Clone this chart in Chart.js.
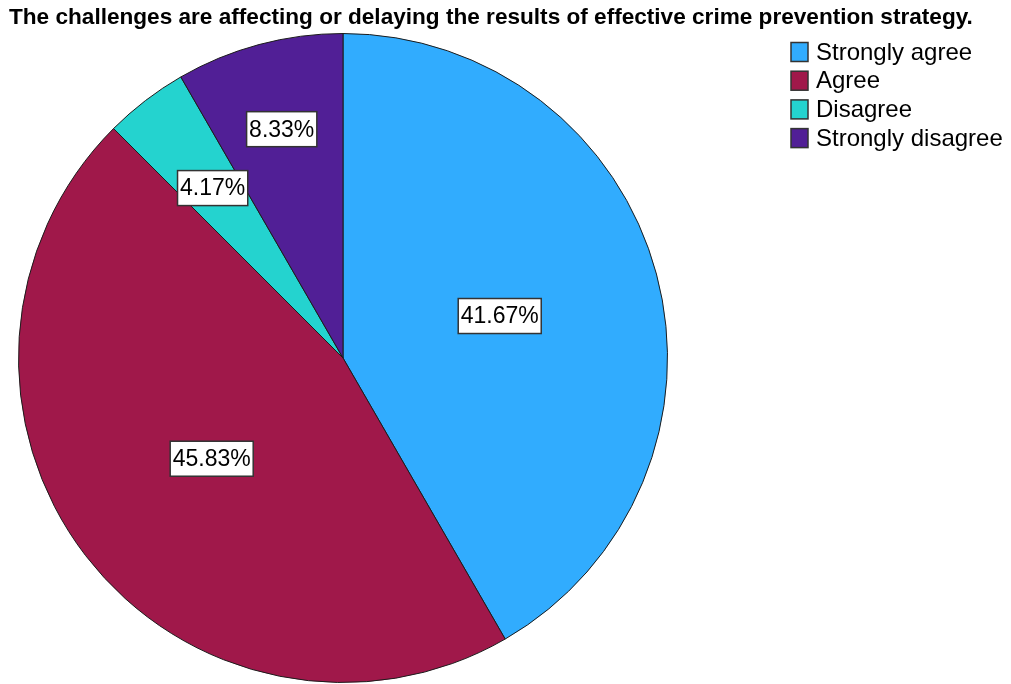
<!DOCTYPE html>
<html>
<head>
<meta charset="utf-8">
<script src="https://cdn.jsdelivr.net/npm/chart.js@4"></script>
<style>
  html, body { margin: 0; padding: 0; background: #fff; }
  #wrap { width: 1011px; height: 684px; position: relative; }
</style>
</head>
<body>
<div id="wrap"><canvas id="chart" width="1011" height="684"></canvas></div>
<script>
'use strict';

const chartTitle = 'The challenges are affecting or delaying the results of effective crime prevention strategy.';
const categories = ['Strongly agree', 'Agree', 'Disagree', 'Strongly disagree'];
const percents = [41.67, 45.83, 4.17, 8.33];
const sliceColors = ['#31acfe', '#a0184a', '#24d3cf', '#511f96'];
// how far out along the radius each percentage box sits
const labelRadius = [0.5, 0.51, 0.66, 0.73];

// title across the top
const titlePlugin = {
    id: 'titleText',
    afterDraw(chart) {
        const ctx = chart.ctx;
        ctx.save();
        ctx.font = 'bold 22.6px "Liberation Sans", Arial, sans-serif';
        ctx.fillStyle = '#000';
        ctx.textBaseline = 'middle';
        ctx.textAlign = 'left';
        ctx.fillText(chartTitle, 9, 18, 966);
        ctx.restore();
    }
};

// boxed percentage labels on each slice
const sliceLabels = {
    id: 'sliceLabels',
    afterDatasetsDraw(chart) {
        const ctx = chart.ctx;
        const meta = chart.getDatasetMeta(0);
        ctx.save();
        ctx.font = '23px "Liberation Sans", Arial, sans-serif';
        ctx.textAlign = 'center';
        ctx.textBaseline = 'middle';
        meta.data.forEach((arc, i) => {
            const mid = (arc.startAngle + arc.endAngle) / 2;
            const r = arc.outerRadius * labelRadius[i];
            const x = arc.x + Math.cos(mid) * r;
            const y = arc.y + Math.sin(mid) * r;
            const text = percents[i].toFixed(2) + '%';
            const w = ctx.measureText(text).width + 5;
            const h = 35;
            ctx.fillStyle = '#fff';
            ctx.fillRect(x - w / 2, y - h / 2, w, h);
            ctx.strokeStyle = '#333';
            ctx.lineWidth = 1.5;
            ctx.strokeRect(x - w / 2, y - h / 2, w, h);
            ctx.fillStyle = '#000';
            ctx.fillText(text, x, y + 1);
        });
        ctx.restore();
    }
};

// legend block at the right
const legendBlock = {
    id: 'legendBlock',
    afterDraw(chart) {
        const ctx = chart.ctx;
        ctx.save();
        ctx.font = '24px "Liberation Sans", Arial, sans-serif';
        ctx.textBaseline = 'middle';
        categories.forEach((name, i) => {
            const y = 52 + i * 28.7;
            ctx.fillStyle = sliceColors[i];
            ctx.fillRect(791, y - 9.5, 17, 19);
            ctx.strokeStyle = '#333';
            ctx.lineWidth = 1.5;
            ctx.strokeRect(791, y - 9.5, 17, 19);
            ctx.fillStyle = '#000';
            ctx.fillText(name, 816, y + 1);
        });
        ctx.restore();
    }
};

function renderChart() {
    const data = {
        labels: categories,
        datasets: [{
            data: percents,
            backgroundColor: sliceColors,
            borderColor: '#1c1c1c',
            borderWidth: 1
        }]
    };

    const config = {
        type: 'pie',
        data: data,
        options: {
            responsive: false,
            animation: false,
            layout: { padding: { top: 33, bottom: 1, left: 18, right: 343 } },
            plugins: {
                legend: { display: false },
                tooltip: { enabled: false }
            }
        },
        plugins: [titlePlugin, sliceLabels, legendBlock]
    };

    const canvasElem = document.getElementById('chart');
    if (canvasElem) {
        new Chart(canvasElem, config);
    }
}

document.addEventListener('DOMContentLoaded', renderChart);
</script>
</body>
</html>
